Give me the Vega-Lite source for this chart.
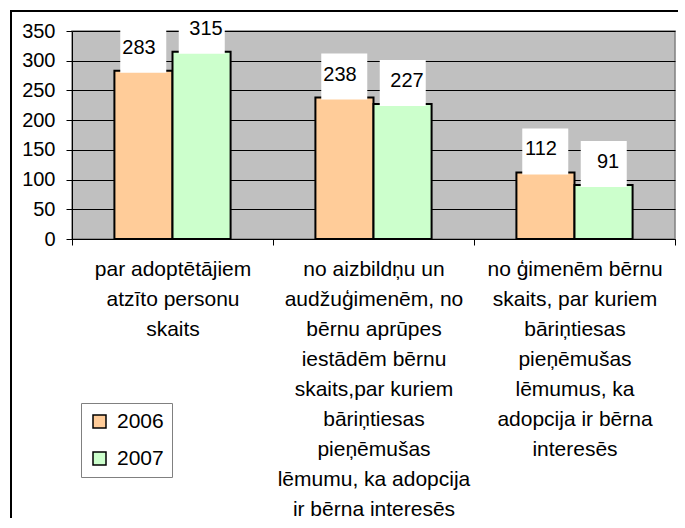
{
  "$schema": "https://vega.github.io/schema/vega-lite/v6.json",
  "autosize": {"type": "none"},
  "padding": {"left": 72, "top": 31, "right": 10, "bottom": 289},
  "width": 603,
  "height": 208,
  "background": "white",
  "config": {
    "font": "Liberation Sans",
    "view": {"fill": "#C0C0C0", "stroke": "#808080", "strokeWidth": 1.5}
  },
  "data": {
    "values": [
      {"category": "par adoptētājiem|atzīto personu|skaits", "year": "2006", "value": 283},
      {"category": "par adoptētājiem|atzīto personu|skaits", "year": "2007", "value": 315},
      {"category": "no aizbildņu un|audžuģimenēm, no|bērnu aprūpes|iestādēm bērnu|skaits,par kuriem|bāriņtiesas|pieņēmušas|lēmumu, ka adopcija|ir bērna interesēs", "year": "2006", "value": 238},
      {"category": "no aizbildņu un|audžuģimenēm, no|bērnu aprūpes|iestādēm bērnu|skaits,par kuriem|bāriņtiesas|pieņēmušas|lēmumu, ka adopcija|ir bērna interesēs", "year": "2007", "value": 227},
      {"category": "no ģimenēm bērnu|skaits, par kuriem|bāriņtiesas|pieņēmušas|lēmumus, ka|adopcija ir bērna|interesēs", "year": "2006", "value": 112},
      {"category": "no ģimenēm bērnu|skaits, par kuriem|bāriņtiesas|pieņēmušas|lēmumus, ka|adopcija ir bērna|interesēs", "year": "2007", "value": 91}
    ]
  },
  "encoding": {
    "x": {
      "field": "category",
      "type": "nominal",
      "sort": null,
      "scale": {"paddingInner": 0, "paddingOuter": 0},
      "axis": {
        "title": null,
        "labelAngle": 0,
        "labelExpr": "datum.value ? split(datum.value, '|') : ''",
        "labelFontSize": 21,
        "labelLineHeight": 30,
        "labelColor": "black",
        "labelLimit": 0,
        "labelPadding": 13,
        "tickBand": "extent",
        "tickSize": 6,
        "tickColor": "black",
        "domainColor": "black",
        "grid": false
      }
    },
    "y": {
      "field": "value",
      "type": "quantitative",
      "scale": {"domain": [0, 350], "nice": false},
      "axis": {
        "title": null,
        "values": [0, 50, 100, 150, 200, 250, 300, 350],
        "labelOverlap": false,
        "labelFontSize": 20,
        "labelColor": "black",
        "labelPadding": 11,
        "tickSize": 6,
        "tickColor": "black",
        "domainColor": "black",
        "gridColor": "black",
        "gridWidth": 1
      }
    }
  },
  "resolve": {"scale": {"xOffset": "independent", "stroke": "independent"}, "legend": {"stroke": "independent"}},
  "layer": [
    {
      "mark": {"type": "bar", "stroke": "black", "strokeWidth": 2},
      "encoding": {
        "xOffset": {
          "field": "year",
          "type": "nominal",
          "scale": {"paddingInner": 0, "paddingOuter": 0.73}
        },
        "fill": {
          "field": "year",
          "type": "nominal",
          "scale": {"domain": ["2006", "2007"], "range": ["#FFCC99", "#CCFFCC"]},
          "legend": {
            "title": null,
            "orient": "none",
            "legendX": 9,
            "legendY": 372,
            "symbolType": "square",
            "symbolSize": 169,
            "symbolStrokeColor": "black",
            "symbolStrokeWidth": 1.5,
            "labelFontSize": 21,
            "labelColor": "black",
            "labelOffset": 7,
            "rowPadding": 15,
            "padding": 8,
            "strokeColor": "#808080",
            "fillColor": "white"
          }
        }
      }
    },
    {
      "mark": {"type": "bar", "fill": "white", "strokeWidth": 0, "yOffset": -44, "y2Offset": 2},
      "encoding": {
        "xOffset": {
          "field": "year",
          "type": "nominal",
          "scale": {"paddingInner": 0.2137, "paddingOuter": 0.825}
        },
        "y2": {"field": "value"},
        "stroke": {
          "field": "value",
          "type": "quantitative",
          "scale": {"domain": [0, 350], "range": ["black", "black"]},
          "legend": {
            "title": null,
            "orient": "none",
            "legendX": -62,
            "legendY": -21,
            "direction": "horizontal",
            "gradientLength": 668,
            "gradientThickness": 2,
            "gradientStrokeWidth": 0,
            "labelExpr": "''",
            "labelOpacity": 0,
            "labelFontSize": 1,
            "padding": 0
          }
        }
      }
    },
    {
      "mark": {"type": "text", "fontSize": 20, "color": "black", "strokeWidth": 0, "baseline": "middle", "yOffset": -23},
      "encoding": {
        "xOffset": {
          "field": "year",
          "type": "nominal",
          "scale": {"type": "point", "padding": 1.231}
        },
        "text": {"field": "value", "type": "quantitative"},
        "stroke": {
          "field": "value",
          "type": "quantitative",
          "scale": {"domain": [0, 350], "range": ["black", "black"]},
          "legend": {
            "title": null,
            "orient": "none",
            "legendX": -62,
            "legendY": -21,
            "direction": "vertical",
            "gradientLength": 508,
            "gradientThickness": 2,
            "gradientStrokeWidth": 0,
            "labelExpr": "''",
            "labelOpacity": 0,
            "labelFontSize": 1,
            "padding": 0
          }
        }
      }
    }
  ]
}
